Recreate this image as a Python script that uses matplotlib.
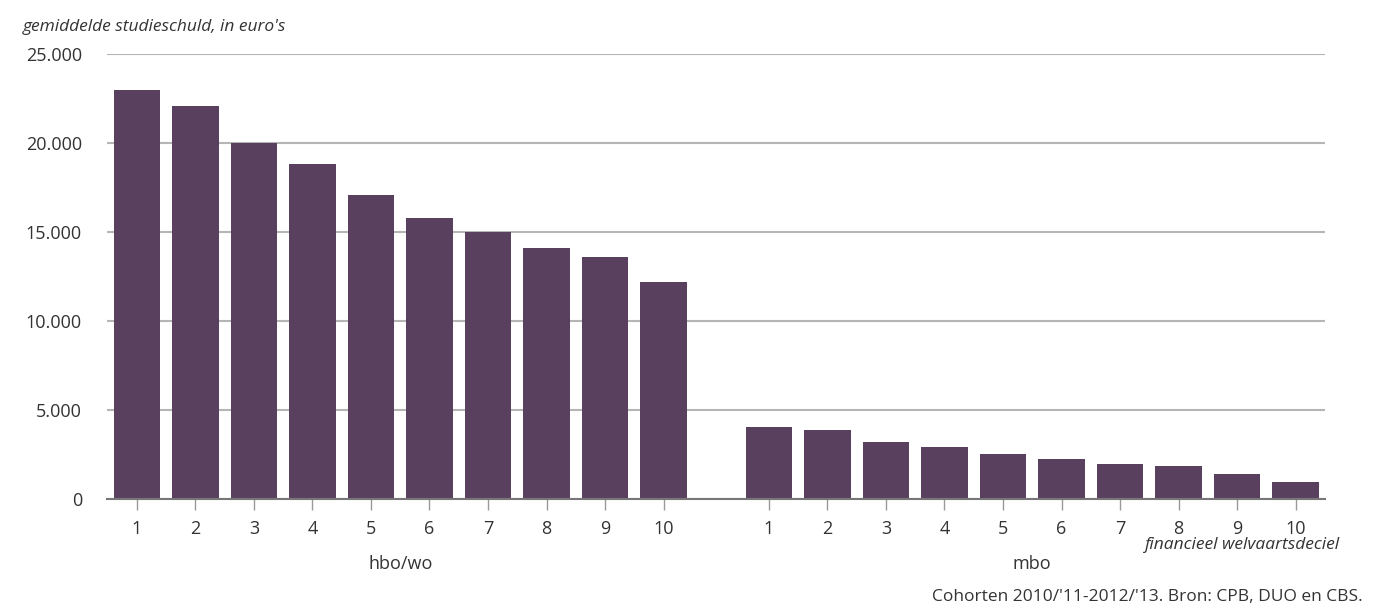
import numpy as np
import matplotlib.pyplot as plt
from matplotlib.ticker import FuncFormatter

deciles = ["1", "2", "3", "4", "5", "6", "7", "8", "9", "10"]
hbo_wo = [22950, 22100, 20000, 18800, 17100, 15800, 15000, 14100, 13600, 12200]
mbo = [4050, 3850, 3200, 2900, 2550, 2250, 1950, 1850, 1400, 950]
groups = ["hbo/wo", "mbo"]

bar_color = "#5a405f"
text_color = "#333333"

plt.rcParams["font.family"] = ["Open Sans", "DejaVu Sans"]

fig = plt.figure(figsize=(13.99, 6.10), dpi=100)
ax = fig.add_axes([0.0765, 0.182, 0.8705, 0.7295])

x_hbo = np.arange(len(hbo_wo))
x_mbo = np.arange(len(mbo)) + 10.8

ax.bar(x_hbo, hbo_wo, width=0.79, color=bar_color, zorder=3)
ax.bar(x_mbo, mbo, width=0.79, color=bar_color, zorder=3)

ax.set_ylim(0, 25000)
ax.set_xlim(-0.51, 20.3)
ax.set_yticks(range(0, 25001, 5000))
ax.yaxis.set_major_formatter(FuncFormatter(lambda v, p: f"{int(v):,}".replace(",", ".")))
ax.yaxis.grid(True, color="#b5b5b5", linewidth=1.5, zorder=0)
ax.tick_params(axis="y", length=0, pad=18, labelsize=13, labelcolor=text_color)

ax.set_xticks(np.concatenate([x_hbo, x_mbo]))
ax.set_xticklabels(deciles + deciles)
ax.tick_params(axis="x", length=8, width=1, color="#999999", pad=7,
               labelsize=13, labelcolor=text_color)

for s in ["top", "right", "left"]:
    ax.spines[s].set_visible(False)
ax.spines["bottom"].set_color("#777777")
ax.spines["bottom"].set_linewidth(1.5)
ax.spines["bottom"].set_zorder(4)

# group labels under the ticks
ax.text(np.mean(x_hbo), -0.145, groups[0], transform=ax.get_xaxis_transform(),
        ha="center", va="center", fontsize=13, color=text_color)
ax.text(np.mean(x_mbo), -0.145, groups[1], transform=ax.get_xaxis_transform(),
        ha="center", va="center", fontsize=13, color=text_color)

fig.text(0.0165, 0.955, "gemiddelde studieschuld, in euro's", fontsize=12.5,
         style="italic", color=text_color, ha="left", va="center")
fig.text(0.958, 0.107, "financieel welvaartsdeciel", fontsize=12.5,
         style="italic", color=text_color, ha="right", va="center")
fig.text(0.974, 0.021, "Cohorten 2010/'11-2012/'13. Bron: CPB, DUO en CBS.",
         fontsize=12.5, color=text_color, ha="right", va="center")

fig.savefig("out.png", dpi=100)
